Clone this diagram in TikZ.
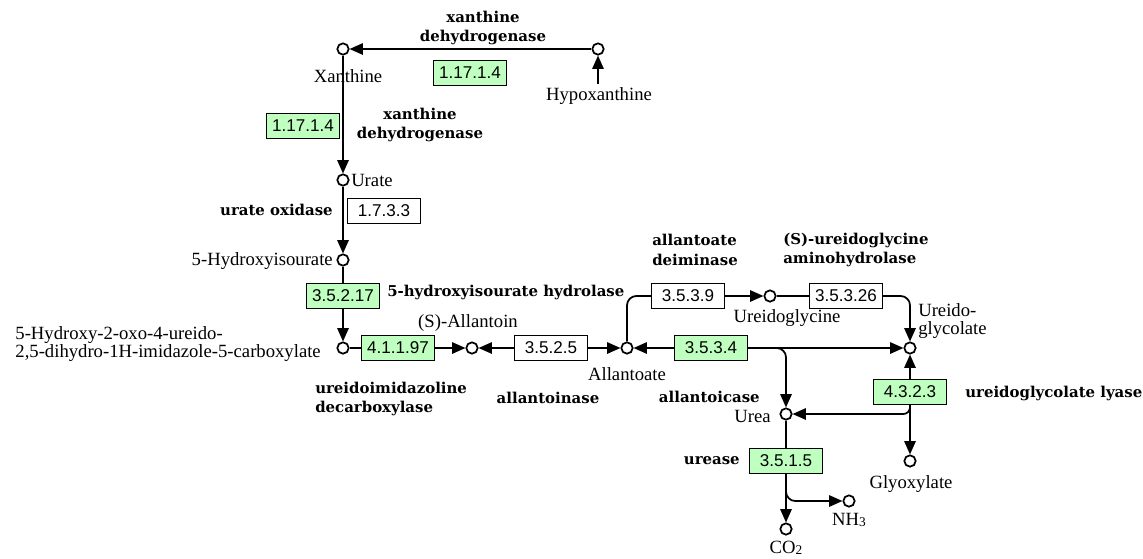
\documentclass[tikz,border=0pt]{standalone}
\usepackage{fontspec}
\setmainfont{Liberation Serif}
\newfontfamily\enzfont{DejaVu Serif}
\newfontfamily\ecfont{Liberation Sans}
\usetikzlibrary{arrows.meta}
\definecolor{ecgreen}{RGB}{191,255,191}
% small subscript digit sitting close to the baseline
\newcommand\lowsub[1]{\raisebox{-1.2pt}{\fontsize{10}{10}\selectfont #1}}
\tikzset{
  cpd/.style={circle,draw,line width=1.3pt,fill=white,minimum size=8.5pt,inner sep=0pt},
  ec/.style={draw,line width=1.1pt,minimum width=54.75pt,minimum height=18.75pt,inner sep=0pt,
             font=\ecfont\fontsize{12.8}{14}\selectfont},
  ecg/.style={ec,fill=ecgreen},
  ecw/.style={ec,fill=white},
  lbl/.style={font=\fontsize{14}{13}\selectfont,inner sep=0pt,align=center},
  enz/.style={font=\enzfont\bfseries\fontsize{11.2}{14.5}\selectfont,inner sep=0pt,align=center},
  rx/.style={line width=1.3pt},
  arr/.style={rx,-{Triangle[length=10pt,width=8.5pt]}},
}
\begin{document}
\begin{tikzpicture}[x=0.75pt,y=-0.75pt]
\fill[white] (0,0) rectangle (1143,558);
\path[use as bounding box] (0,0) rectangle (1143,558);

% compounds
\node[cpd] (xan)   at (343,49)  {};
\node[cpd] (hyp)   at (598,49)  {};
\node[cpd] (urate) at (343,180) {};
\node[cpd] (hxu)   at (343,260) {};
\node[cpd] (ohcu)  at (343,348) {};
\node[cpd] (alln)  at (472,348) {};
\node[cpd] (allt)  at (627,348) {};
\node[cpd] (ugly)  at (770,296) {};
\node[cpd] (uglc)  at (910,348) {};
\node[cpd] (urea)  at (786,414) {};
\node[cpd] (glyox) at (910,461) {};
\node[cpd] (nh3)   at (849,501) {};
\node[cpd] (co2)   at (786,529) {};

% enzymes
\node[ecg] (e1)  at (470,73)  {1.17.1.4};
\node[ecg] (e2)  at (303,126) {1.17.1.4};
\node[ecw] (e3)  at (384,211) {1.7.3.3};
\node[ecg] (e4)  at (343,296) {3.5.2.17};
\node[ecg] (e5)  at (398,348) {4.1.1.97};
\node[ecw] (e6)  at (551,348) {3.5.2.5};
\node[ecg] (e7)  at (711,348) {3.5.3.4};
\node[ecw] (e8)  at (688,296) {3.5.3.9};
\node[ecw] (e9)  at (846,296) {3.5.3.26};
\node[ecg] (e10) at (910,392) {4.3.2.3};
\node[ecg] (e11) at (786,461) {3.5.1.5};

% reactions
\coordinate (hypin) at (598,84);
\coordinate (br1) at (775,348);
\coordinate (br2) at (786,488);
\draw[arr] (hyp) -- (xan);
\draw[arr] (hypin) -- (hyp);
\draw[arr] (xan) -- (urate);
\draw[arr] (urate) -- (hxu);
\draw[rx]  (hxu) -- (e4);
\draw[arr] (e4) -- (ohcu);
\draw[rx]  (ohcu) -- (e5);
\draw[arr] (e5) -- (alln);
\draw[arr] (e6) -- (alln);
\draw[arr] (e6) -- (allt);
\draw[arr] (e7) -- (allt);
\draw[arr] (e7) -- (uglc);
\draw[arr,rounded corners=7pt] (br1) -| (urea);
\draw[rx,rounded corners=7pt] (allt) |- (e8);
\draw[arr] (e8) -- (ugly);
\draw[rx]  (ugly) -- (e9);
\draw[arr,rounded corners=7pt] (e9) -| (uglc);
\draw[arr] (e10) -- (uglc);
\draw[arr] (e10) -- (glyox);
\draw[arr,rounded corners=5pt] (e10.south) |- (urea);
\draw[rx]  (urea) -- (e11);
\draw[arr] (e11) -- (co2);
\draw[arr,rounded corners=7pt] (br2) |- (nh3);

% compound names
\node[lbl] (lxan) at (348,76) {Xanthine};
\node[lbl] (lhyp) at (599,96) {Hypoxanthine};
\node[lbl,anchor=west] (lurate) at (351,180) {Urate};
\node[lbl,anchor=east] (lhxu) at (333,261) {5-Hydroxyisourate};
\node[lbl,anchor=east,align=left] (lohcu) at (321,344) {5-Hydroxy-2-oxo-4-ureido-\\2,5-dihydro-1H-imidazole-5-carboxylate};
\node[lbl] (lalln) at (468,323) {(S)-Allantoin};
\node[lbl] (lallt) at (627,374) {Allantoate};
\node[lbl] (lugly) at (787,318) {Ureidoglycine};
\node[lbl,anchor=west,align=left] (luglc) at (918,321) {Ureido-\\glycolate};
\node[lbl,anchor=east] (lurea) at (771,416) {Urea};
\node[lbl] (lglyox) at (911,484) {Glyoxylate};
\node[lbl] (lnh3) at (849,520) {NH\lowsub{3}};
\node[lbl] (lco2) at (786,548) {CO\lowsub{2}};

% enzyme names
\node[enz] (n1) at (483,28) {xanthine\\dehydrogenase};
\node[enz] (n2) at (420,125) {xanthine\\dehydrogenase};
\node[enz,anchor=east] (n3) at (333,210) {urate oxidase};
\node[enz,anchor=west] (n4) at (387,292) {5-hydroxyisourate hydrolase};
\node[enz,anchor=west,align=left] (n5) at (315,399) {ureidoimidazoline\\decarboxylase};
\node[enz] (n6) at (548,398) {allantoinase};
\node[enz,anchor=west,align=left] (n7) at (652,250) {allantoate\\deiminase};
\node[enz,anchor=west,align=left] (n8) at (783,250) {(S)-ureidoglycine\\aminohydrolase};
\node[enz,anchor=east] (n9) at (760,397) {allantoicase};
\node[enz,anchor=west] (n10) at (965,393) {ureidoglycolate lyase};
\node[enz,anchor=east] (n11) at (740,461) {urease};
\end{tikzpicture}
\end{document}
